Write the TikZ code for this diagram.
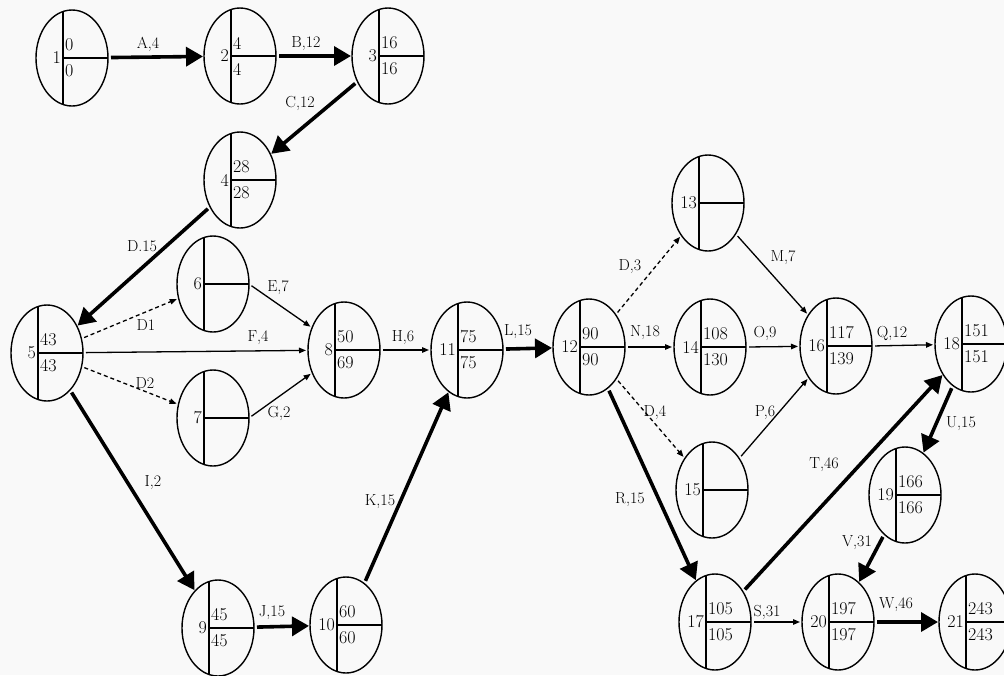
\documentclass[tikz,border=0pt]{standalone}
\usetikzlibrary{shapes.geometric,arrows.meta}
\begin{document}
\begin{tikzpicture}[x=1pt,y=-1pt,
  evt/.style={draw, shape=ellipse, line width=1.4pt, minimum width=72pt,
    minimum height=96pt, inner sep=0pt, outer sep=0pt},
  divider/.style={line width=1.4pt},
  numlbl/.style={anchor=east, inner sep=1pt, font=\fontsize{18}{20}\selectfont},
  vallbl/.style={anchor=west, inner sep=1pt, font=\fontsize{18}{20}\selectfont},
  actlbl/.style={inner sep=0pt, font=\fontsize{16}{18}\selectfont},
  heavy/.style={line width=3.6pt, -{Triangle[length=17pt,width=19pt]},
    shorten >=1pt, shorten <=3pt},
  light/.style={line width=1.3pt, -{Triangle[length=7pt,width=5.5pt]},
    shorten >=2pt, shorten <=3pt},
  dummy/.style={light, dash pattern=on 4pt off 3pt}]

% page and background
\fill[white!95!gray] (0,0) rectangle (1004,675);
\useasboundingbox (0,0) rectangle (1004,675);

% event: name, x, y, number, earliest, latest
\newcommand{\evt}[6]{%
  \node[evt] (#1) at (#2,#3) {};
  \draw[divider] ([xshift=-9pt,yshift=46.5pt]#1.center) -- ([xshift=-9pt,yshift=-46.5pt]#1.center);
  \draw[divider] ([xshift=-9pt]#1.center) -- (#1.east);
  \node[numlbl] (#1n) at ([xshift=-10pt]#1.center) {#4};
  \node[vallbl] (#1t) at ([xshift=-8pt,yshift=13pt]#1.center) {#5};
  \node[vallbl] (#1b) at ([xshift=-8pt,yshift=-13pt]#1.center) {#6};
}

\evt{e1}{72}{58}{1}{0}{0}
\evt{e2}{240}{56}{2}{4}{4}
\evt{e3}{388}{56}{3}{16}{16}
\evt{e4}{240}{180}{4}{28}{28}
\evt{e5}{47}{353}{5}{43}{43}
\evt{e6}{213}{284}{6}{}{}
\evt{e7}{213}{418}{7}{}{}
\evt{e8}{344}{350}{8}{50}{69}
\evt{e9}{218}{628}{9}{45}{45}
\evt{e10}{346}{625}{10}{60}{60}
\evt{e11}{467}{350}{11}{75}{75}
\evt{e12}{589}{347}{12}{90}{90}
\evt{e13}{708}{203}{13}{}{}
\evt{e14}{710}{347}{14}{108}{130}
\evt{e15}{712}{490}{15}{}{}
\evt{e16}{836}{346}{16}{117}{139}
\evt{e17}{715}{622}{17}{105}{105}
\evt{e18}{971}{344}{18}{151}{151}
\evt{e19}{905}{495}{19}{166}{166}
\evt{e20}{838}{622}{20}{197}{197}
\evt{e21}{975}{622}{21}{243}{243}

% activities
\draw[heavy] (e1) -- (e2);
\draw[heavy] (e2) -- (e3);
\draw[heavy] (e3) -- (e4);
\draw[heavy] (e4) -- (e5);
\draw[dummy] (e5) -- (e6);
\draw[dummy] (e5) -- (e7);
\draw[light] (e5) -- (e8);
\draw[light] (e6.east) -- (e8);
\draw[light] (e7.east) -- (e8);
\draw[heavy] (e5) -- (e9);
\draw[heavy] (e9) -- (e10);
\draw[heavy] (e10) -- (e11);
\draw[light] (e8.east) -- (e11);
\draw[heavy] (e11) -- (e12);
\draw[dummy] (e12) -- (e13);
\draw[light] (e12.east) -- (e14);
\draw[dummy] (e12) -- (e15);
\draw[heavy] (e12) -- (e17);
\draw[light] (e13) -- (e16);
\draw[light] (e14.east) -- (e16);
\draw[light] (e15) -- (e16);
\draw[light] (e16.east) -- (e18);
\draw[heavy] (e17) -- (e18);
\draw[heavy] (e18) -- (e19);
\draw[heavy] (e19) -- (e20);
\draw[light] (e17.east) -- (e20);
\draw[heavy] (e20.east) -- (e21);

% activity labels
\node[actlbl] (la) at (148,44) {A,4};
\node[actlbl] (lb) at (306,44) {B,12};
\node[actlbl] (lc) at (300,103) {C,12};
\node[actlbl] (ld) at (142,246) {D.15};
\node[actlbl] (ld1) at (146,325) {D1};
\node[actlbl] (ld2) at (145,383) {D2};
\node[actlbl] (le) at (278,288) {E,7};
\node[actlbl] (lf) at (258,338) {F,4};
\node[actlbl] (lg) at (279,413) {G,2};
\node[actlbl] (lh) at (403,338) {H,6};
\node[actlbl] (li) at (153,483) {I,2};
\node[actlbl] (lj) at (272,613) {J,15};
\node[actlbl] (lk) at (380,502) {K,15};
\node[actlbl] (ll) at (518,332) {L,15};
\node[actlbl] (ld3) at (630,267) {D,3};
\node[actlbl] (ln) at (645,333) {N,18};
\node[actlbl] (ld4) at (655,413) {D,4};
\node[actlbl] (lr) at (630,500) {R,15};
\node[actlbl] (lm) at (783,258) {M,7};
\node[actlbl] (lo) at (765,333) {O,9};
\node[actlbl] (lp) at (765,413) {P,6};
\node[actlbl] (lq) at (892,333) {Q,12};
\node[actlbl] (lt) at (824,465) {T,46};
\node[actlbl] (lu) at (961,424) {U,15};
\node[actlbl] (lv) at (857,543) {V,31};
\node[actlbl] (ls) at (767,612) {S,31};
\node[actlbl] (lw) at (896,605) {W,46};
\end{tikzpicture}
\end{document}
